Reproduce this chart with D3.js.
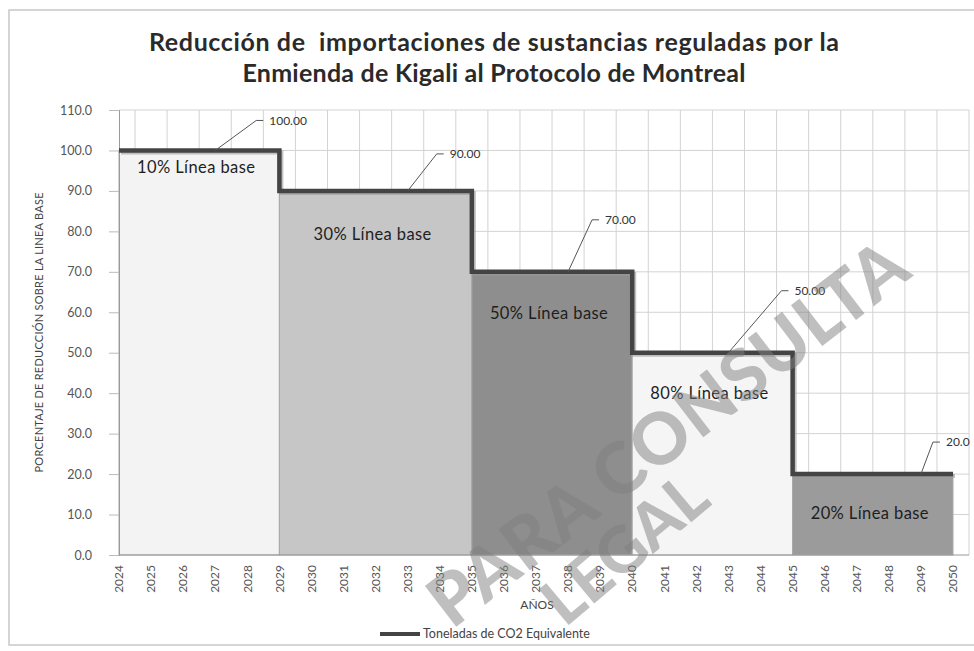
<!DOCTYPE html>
<html>
<head>
<meta charset="utf-8">
<script src="https://cdn.jsdelivr.net/npm/d3@7"></script>
<style>
  html, body { margin: 0; padding: 0; background: #fff; }
  svg { display: block; font-family: Lato, "Noto Sans", sans-serif; }
</style>
</head>
<body>
<svg id="chart" width="974" height="651"></svg>
<script>
// ---- data ----
const titleLines = ["Reducción de  importaciones de sustancias reguladas por la", "Enmienda de Kigali al Protocolo de Montreal"];
const years = [2024,2025,2026,2027,2028,2029,2030,2031,2032,2033,2034,2035,2036,2037,2038,2039,2040,2041,2042,2043,2044,2045,2046,2047,2048,2049,2050];
const seriesValues = [100,100,100,100,100, 90,90,90,90,90,90, 70,70,70,70,70, 50,50,50,50,50, 20,20,20,20,20,20];
const seriesName = "Toneladas de CO2 Equivalente";
const yTicks = [0,10,20,30,40,50,60,70,80,90,100,110];
const stageLabels = ["10% Línea base","30% Línea base","50% Línea base","80% Línea base","20% Línea base"];
const stageStart = [2024,2029,2035,2040,2045];
const stageEnd = [2029,2035,2040,2045,2050];
const stageValue = [100,90,70,50,20];
const calloutYears = [2027,2033,2038,2043,2049];
const calloutValues = [100,90,70,50,20];
const calloutLabels = ["100.00","90.00","70.00","50.00","20.0"];
const yTitle = "PORCENTAJE DE REDUCCIÓN SOBRE LA LINEA BASE";
const xTitle = "AÑOS";
const watermark = ["PARA CONSULTA", "LEGAL"];

// ---- styles / layout ----
const stageFill = ["#f3f3f3","#c6c6c6","#8e8e8e","#f5f5f5","#9b9b9b"];
const stageLabelDy = [17, 43, 41, 40, 39];
const calloutOffset = [[41,-30],[29,-37],[24,-52],[53,-62],[12,-32]];
const titleWidths = [690, 503];

const svg = d3.select("#chart");
const W = 974, H = 651;

// chart frame
svg.append("rect").attr("x", 9).attr("y", 10).attr("width", W).attr("height", 635)
  .attr("fill", "#fff").attr("stroke", "#c8c8c8").attr("stroke-width", 1.5);

const x = d3.scalePoint().domain(years).range([119, 953]);
const step = x.step();
const y = d3.scaleLinear().domain([0, 110]).range([555, 110]);
const left = x(years[0]), right = x(years[years.length-1]) + step/2;

// gridlines
const grid = svg.append("g").attr("stroke", "#d3d3d3").attr("stroke-width", 1);
grid.selectAll("line.h").data(yTicks.slice(1)).join("line")
  .attr("x1", left).attr("x2", right).attr("y1", d => y(d)).attr("y2", d => y(d));
grid.selectAll("line.v").data(years).join("line")
  .attr("x1", d => x(d) + step/2).attr("x2", d => x(d) + step/2)
  .attr("y1", y(110)).attr("y2", y(0));

// stage boxes
const boxes = svg.append("g");
stageLabels.forEach((lab, i) => {
  boxes.append("rect")
    .attr("x", x(stageStart[i])).attr("y", y(stageValue[i]))
    .attr("width", x(stageEnd[i]) - x(stageStart[i]))
    .attr("height", y(0) - y(stageValue[i]))
    .attr("fill", stageFill[i]).attr("stroke", "#a8a8a8").attr("stroke-width", 1);
});

// axes
svg.append("line").attr("x1", left).attr("x2", right).attr("y1", y(0)).attr("y2", y(0))
  .attr("stroke", "#999");
const yAxis = svg.append("g").attr("transform", `translate(${left},0)`)
  .call(d3.axisLeft(y).tickValues(yTicks).tickFormat(d3.format(".1f")).tickSize(10).tickPadding(17));
yAxis.select(".domain").attr("stroke", "#999");
yAxis.selectAll(".tick line").attr("stroke", "#bbb");
yAxis.selectAll(".tick text").attr("font-size", 12.5).attr("fill", "#555").attr("font-family", "Lato");

const xLabels = svg.append("g");
xLabels.selectAll("text").data(years).join("text")
  .attr("transform", d => `translate(${x(d)},${y(0) + 10}) rotate(-90)`)
  .attr("text-anchor", "end").attr("dy", "0.35em")
  .attr("font-size", 12).attr("fill", "#555").text(d => d);

// step line (shadow + line)
const line = d3.line().x(d => x(d[0])).y(d => y(d[1])).curve(d3.curveStepAfter);
const pts = years.map((yr, i) => [yr, seriesValues[i]]);
svg.append("path").attr("d", line(pts)).attr("fill", "none")
  .attr("stroke", "#9a9a9a").attr("stroke-width", 4).attr("opacity", 0.6)
  .attr("transform", "translate(2,2)");
svg.append("path").attr("d", line(pts)).attr("fill", "none")
  .attr("stroke", "#444").attr("stroke-width", 4.5).attr("stroke-linejoin", "miter");

// stage labels
stageLabels.forEach((lab, i) => {
  svg.append("text")
    .attr("x", (x(stageStart[i]) + x(stageEnd[i])) / 2 - 3)
    .attr("y", y(stageValue[i]) + stageLabelDy[i])
    .attr("dy", "0.35em").attr("text-anchor", "middle")
    .attr("font-size", 16.5).attr("letter-spacing", 0.4).attr("fill", "#1e1e1e").text(lab);
});

// callouts
calloutYears.forEach((yr, i) => {
  const ax = x(yr), ay = y(calloutValues[i]);
  const [dx, dy] = calloutOffset[i];
  svg.append("path")
    .attr("d", `M${ax},${ay} L${ax+dx},${ay+dy} L${ax+dx+7},${ay+dy}`)
    .attr("fill", "none").attr("stroke", "#555").attr("stroke-width", 1);
  svg.append("text").attr("x", ax + dx + 13).attr("y", ay + dy).attr("dy", "0.35em")
    .attr("font-size", 12).attr("fill", "#333").text(calloutLabels[i]);
});

// titles
const tg = svg.append("g");
titleLines.forEach((t, i) => {
  tg.append("text").attr("x", 494).attr("y", 42 + i * 31).attr("dy", "0.35em")
    .attr("text-anchor", "middle").attr("font-weight", "bold").attr("font-size", 25)
    .attr("textLength", titleWidths[i]).attr("lengthAdjust", "spacing")
    .attr("fill", "#2a2a2a").style("white-space", "pre").text(t);
});

svg.append("text")
  .attr("transform", `translate(39,${(y(0)+y(110))/2}) rotate(-90)`)
  .attr("text-anchor", "middle").attr("dy", "0.35em")
  .attr("font-size", 11).attr("textLength", 280).attr("lengthAdjust", "spacing")
  .attr("fill", "#444").text(yTitle);

svg.append("text").attr("x", 537).attr("y", 605).attr("dy", "0.35em")
  .attr("text-anchor", "middle").attr("font-size", 12).attr("fill", "#444").text(xTitle);

// legend
svg.append("line").attr("x1", 380).attr("x2", 420).attr("y1", 634).attr("y2", 634)
  .attr("stroke", "#444").attr("stroke-width", 4);
svg.append("text").attr("x", 423).attr("y", 634).attr("dy", "0.35em")
  .attr("font-size", 12.5).attr("fill", "#444").text(seriesName);

// watermark
svg.append("text").attr("transform", "translate(452,630) rotate(-37.5)")
  .attr("font-size", 71).attr("font-weight", "900").attr("fill", "#808080").attr("opacity", 0.5)
  .attr("letter-spacing", 1)
  .text(watermark[0]);
svg.append("text").attr("transform", "translate(565,628) rotate(-40)")
  .attr("font-size", 64).attr("font-weight", "900").attr("fill", "#808080").attr("opacity", 0.5)
  .text(watermark[1]);
</script>
</body>
</html>
